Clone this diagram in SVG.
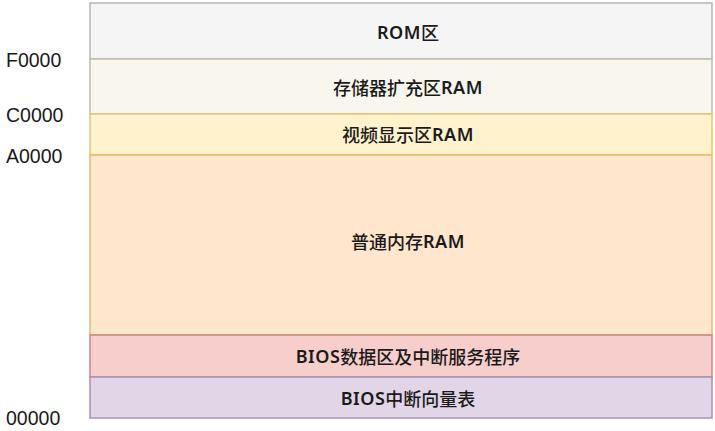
<svg xmlns="http://www.w3.org/2000/svg" width="715" height="431" viewBox="0 0 715 431">
<style>
.band{stroke-width:1.5}
.t{font-family:"Noto Sans CJK SC","Noto Sans",sans-serif;font-size:18px;font-weight:500;fill:#1a1a1a;text-anchor:middle;dominant-baseline:central}
.l{font-family:"Noto Sans","Noto Sans CJK SC",sans-serif;font-weight:600;letter-spacing:0.5px}
.addr{font-family:"Liberation Sans","Noto Sans",sans-serif;font-size:19.5px;fill:#1a1a1a;dominant-baseline:central}
</style>
<rect x="0" y="0" width="715" height="431" fill="#ffffff"/>
<g id="rom"><rect class="band" x="90" y="3" width="622" height="56" fill="#f5f5f5" stroke="#b5b5b5"/><text class="t" x="408" y="32"><tspan class="l">ROM</tspan>区</text></g>
<g id="ext"><rect class="band" x="90" y="59" width="622" height="55" fill="#f9f7ed" stroke="#bdbdb5"/><text class="t" x="408" y="87">存储器扩充区<tspan class="l">RAM</tspan></text></g>
<g id="video"><rect class="band" x="90" y="114" width="622" height="41" fill="#fff2cc" stroke="#e0c878"/><text class="t" x="408" y="134">视频显示区<tspan class="l">RAM</tspan></text></g>
<g id="normal"><rect class="band" x="90" y="155" width="622" height="180" fill="#ffe6cc" stroke="#e3bd6a"/><text class="t" x="408" y="241">普通内存<tspan class="l">RAM</tspan></text></g>
<g id="biosdata"><rect class="band" x="90" y="335" width="622" height="42" fill="#f8cecc" stroke="#c88680"/><text class="t" x="408" y="356"><tspan class="l">BIOS</tspan>数据区及中断服务程序</text></g>
<g id="biosivt"><rect class="band" x="90" y="377" width="622" height="41" fill="#e1d5e7" stroke="#a890b8"/><text class="t" x="408" y="398"><tspan class="l">BIOS</tspan>中断向量表</text></g>
<g id="addresses">
<text class="addr" x="6" y="60">F0000</text>
<text class="addr" x="6" y="115">C0000</text>
<text class="addr" x="6" y="156">A0000</text>
<text class="addr" x="6" y="418">00000</text>
</g>
</svg>
